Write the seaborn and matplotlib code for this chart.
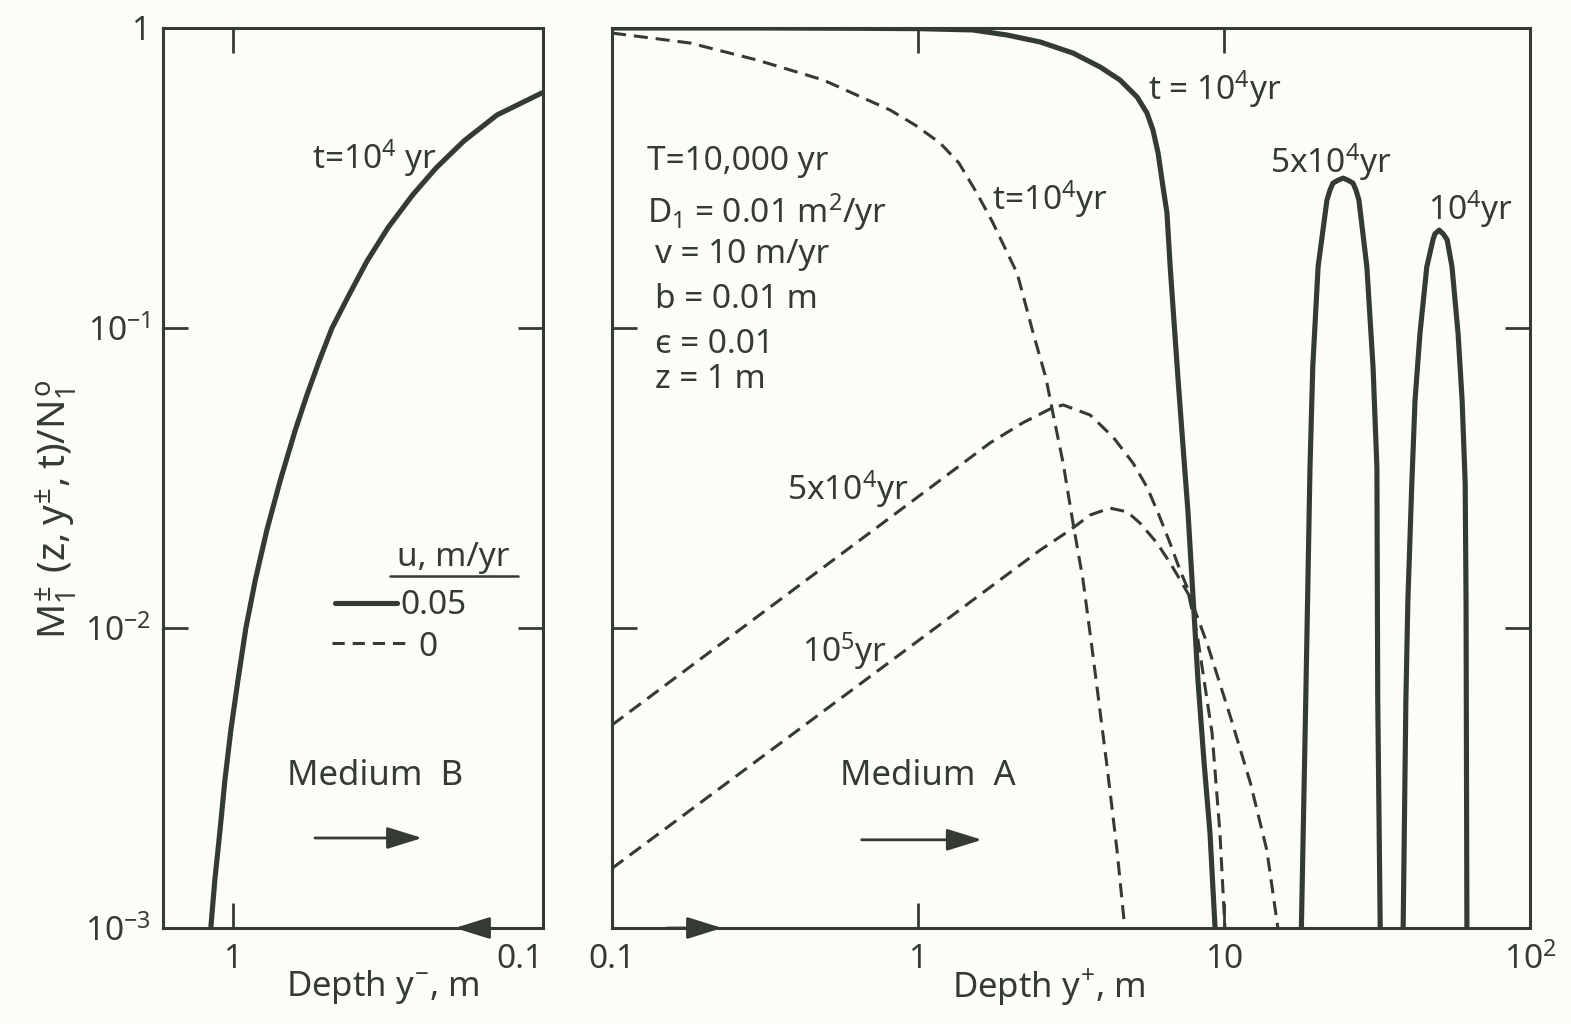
import matplotlib
matplotlib.use("Agg")
import matplotlib.pyplot as plt
from matplotlib.ticker import NullLocator
import pandas as pd
import seaborn as sns

INK = "#343a34"
PAPER = "#fcfcf8"

# ---- Medium B (depth y-), u = 0.05 m/yr, t = 1e4 yr ----
b_depth = [1.178, 1.143, 1.10, 1.061, 1.015, 0.963, 0.908, 0.846, 0.777, 0.703,
           0.629, 0.577, 0.527, 0.479, 0.422, 0.3695, 0.316, 0.263, 0.2215, 0.18,
           0.1407, 0.10]
b_conc = [0.001, 0.00145, 0.00212, 0.00311, 0.00457, 0.0067, 0.01, 0.0145, 0.0212,
          0.0311, 0.0457, 0.0598, 0.0776, 0.10, 0.129, 0.167, 0.216, 0.278, 0.341,
          0.42, 0.513, 0.61]

# ---- Medium A (depth y+), u = 0.05 m/yr ----
a_u05_t1e4_depth = [0.1, 0.3, 0.6, 1.0, 1.51, 1.95, 2.51, 3.21, 3.94, 4.57, 5.2, 5.6,
                    5.86, 6.09, 6.32, 6.51, 6.67, 7.08, 7.35, 7.63, 7.86, 8.04, 8.22,
                    8.6, 9.0, 9.35]
a_u05_t1e4_conc = [1.0, 1.0, 0.998, 0.995, 0.985, 0.948, 0.898, 0.825, 0.741, 0.671,
                   0.589, 0.521, 0.457, 0.383, 0.295, 0.242, 0.16, 0.067, 0.0401,
                   0.0242, 0.0145, 0.00985, 0.0067, 0.0036, 0.00207, 0.001]

a_u05_t5e4_depth = [17.9, 18.5, 19.1, 19.5, 20.3, 21.7, 22.2, 22.7, 23.6, 24.5, 25.4,
                    26.4, 27.0, 27.6, 29.3, 30.7, 31.6, 31.8, 32.4]
a_u05_t5e4_conc = [0.001, 0.00575, 0.0343, 0.074, 0.16, 0.267, 0.288, 0.304, 0.311,
                   0.316, 0.311, 0.304, 0.288, 0.267, 0.16, 0.074, 0.0343, 0.00575,
                   0.001]

a_u05_t1e5_depth = [38.5, 39.3, 39.9, 41.1, 42.1, 43.7, 46.0, 48.2, 48.9, 50.5, 52.0,
                    53.6, 55.6, 58.2, 60.0, 61.4, 61.8, 62.2]
a_u05_t1e5_conc = [0.001, 0.00575, 0.0124, 0.0304, 0.0575, 0.096, 0.16, 0.197, 0.206,
                   0.212, 0.206, 0.197, 0.16, 0.096, 0.0575, 0.0304, 0.0124, 0.001]

# ---- Medium A (depth y+), u = 0 ----
a_u0_t1e4_depth = [0.1, 0.18, 0.298, 0.49, 0.81, 0.978, 1.18, 1.36, 1.55, 1.75, 2.11,
                   2.38, 2.62, 2.76, 2.98, 3.21, 3.46, 3.7, 4.15, 4.47, 4.74]
a_u0_t1e4_conc = [0.962, 0.891, 0.782, 0.671, 0.533, 0.475, 0.414, 0.355, 0.284,
                  0.226, 0.152, 0.096, 0.068, 0.052, 0.0355, 0.0224, 0.0145, 0.00865,
                  0.00344, 0.00182, 0.001]

a_u0_t5e4_depth = [0.1, 1.04, 1.72, 2.2, 2.74, 2.98, 3.65, 4.34, 5.04, 5.6, 6.09, 6.66,
                   7.18, 7.57, 8.16, 9.14, 9.7, 10.07]
a_u0_t5e4_conc = [0.00475, 0.0282, 0.0414, 0.0483, 0.0541, 0.0554, 0.0513, 0.0433,
                  0.0355, 0.0295, 0.0242, 0.0192, 0.0156, 0.0137, 0.0096, 0.00447,
                  0.00207, 0.001]

a_u0_t1e5_depth = [0.1, 2.51, 3.14, 3.65, 4.24, 4.82, 5.31, 6.04, 6.66, 7.18, 7.74,
                   8.8, 10.5, 12.2, 13.8, 15.0]
a_u0_t1e5_conc = [0.00158, 0.0182, 0.0212, 0.0238, 0.0251, 0.0244, 0.0224, 0.0192,
                  0.0165, 0.0145, 0.0127, 0.0089, 0.00505, 0.00304, 0.00182, 0.001]

y_ticks = [1e-3, 1e-2, 1e-1, 1.0]
y_ticklabels = ["$10^{-3}$", "$10^{-2}$", "$10^{-1}$", "1"]
b_xticks = [1.0, 0.1]
b_xticklabels = ["1", "0.1"]
a_xticks = [0.1, 1.0, 10.0, 100.0]
a_xticklabels = ["0.1", "1", "10", "$10^{2}$"]

params = ["T=10,000 yr", "$D_1$ = 0.01 m$^2$/yr", "v = 10 m/yr", "b = 0.01 m",
          "\u03f5 = 0.01", "z = 1 m"]

SOLID_LW = 3.7
DASH_LW = 2.2
DASH = (0, (4.6, 2.6))

sns.set_theme(style="ticks")
plt.rcParams["font.family"] = ["Noto Sans", "DejaVu Sans"]
plt.rcParams.update({
    "mathtext.fontset": "custom",
    "mathtext.rm": "Noto Sans",
    "mathtext.it": "Noto Sans",
    "mathtext.bf": "Noto Sans:bold",
    "mathtext.sf": "Noto Sans",
    "text.color": INK,
    "axes.edgecolor": INK,
    "axes.labelcolor": INK,
    "xtick.color": INK,
    "ytick.color": INK,
    "axes.facecolor": PAPER,
    "figure.facecolor": PAPER,
})

W, H = 1571, 1024
fig = plt.figure(figsize=(W / 100, H / 100), dpi=100)
axB = fig.add_axes([163 / W, 96 / H, 380 / W, 900 / H])
axA = fig.add_axes([612 / W, 96 / H, 918 / W, 900 / H])

for ax in (axB, axA):
    ax.set_xscale("log")
    ax.set_yscale("log")


def curve(ax, x, y, dashed=False):
    df = pd.DataFrame({"depth": x, "conc": y})
    sns.lineplot(data=df, x="depth", y="conc", ax=ax, sort=False, estimator=None,
                 color=INK, lw=DASH_LW if dashed else SOLID_LW,
                 linestyle=DASH if dashed else "-", zorder=3,
                 solid_joinstyle="round", dash_joinstyle="round")


curve(axB, b_depth, b_conc)
curve(axA, a_u05_t1e4_depth, a_u05_t1e4_conc)
curve(axA, a_u05_t5e4_depth, a_u05_t5e4_conc)
curve(axA, a_u05_t1e5_depth, a_u05_t1e5_conc)
curve(axA, a_u0_t1e4_depth, a_u0_t1e4_conc, dashed=True)
curve(axA, a_u0_t5e4_depth, a_u0_t5e4_conc, dashed=True)
curve(axA, a_u0_t1e5_depth, a_u0_t1e5_conc, dashed=True)

axB.set_xlim(1.68, 0.1)
axA.set_xlim(0.1, 100)
for ax in (axB, axA):
    ax.set_ylim(1e-3, 1.0)
    ax.set_yticks(y_ticks)
    ax.xaxis.set_minor_locator(NullLocator())
    ax.yaxis.set_minor_locator(NullLocator())
    for s in ax.spines.values():
        s.set_visible(True)
        s.set_linewidth(2.2)
        s.set_color(INK)
    ax.tick_params(which="major", direction="in", length=18, width=2,
                   top=True, right=True, labelsize=24, colors=INK)
    ax.tick_params(axis="x", pad=11)
    ax.tick_params(axis="y", pad=9)

axB.set_yticklabels(y_ticklabels)
axA.tick_params(axis="y", labelleft=False)
axB.set_xticks(b_xticks)
axB.set_xticklabels(b_xticklabels)
axA.set_xticks(a_xticks)
axA.set_xticklabels(a_xticklabels)
axB.get_xticklabels()[1].set_horizontalalignment("right")

axB.set_xlabel("Depth $y^{-}$, m", fontsize=25)
axB.xaxis.set_label_coords(0.579, -0.044)
axA.set_xlabel("Depth $y^{+}$, m", fontsize=25)
axA.xaxis.set_label_coords(0.476, -0.044)
axB.set_ylabel(r"$M_1^{\pm}\ (z, y^{\pm}, t)/N_1^{o}$", fontsize=28)
axB.yaxis.set_label_coords(-0.222, 0.465)
axA.set_ylabel("")

TXT = 24

# Medium B annotations
axB.text(0.392, 0.844, "t=$10^4$ yr", transform=axB.transAxes, fontsize=TXT,
         ha="left", va="baseline")
axB.text(0.326, 0.159, "Medium  B", transform=axB.transAxes, fontsize=25,
         ha="left", va="baseline")

# legend for the flow velocity u
axB.text(0.615, 0.402, "u, m/yr", transform=axB.transAxes, fontsize=TXT,
         ha="left", va="baseline")
axB.plot([0.597, 0.934], [0.391, 0.391], transform=axB.transAxes, color=INK, lw=1.8)
axB.plot([0.453, 0.616], [0.361, 0.361], transform=axB.transAxes, color=INK,
         lw=SOLID_LW)
axB.text(0.624, 0.349, "0.05", transform=axB.transAxes, fontsize=TXT,
         ha="left", va="baseline")
axB.plot([0.445, 0.637], [0.317, 0.317], transform=axB.transAxes, color=INK,
         lw=DASH_LW, linestyle=(0, (4.0, 2.6)))
axB.text(0.672, 0.302, "0", transform=axB.transAxes, fontsize=TXT,
         ha="left", va="baseline")

# Medium A annotations
for i, (s, yy) in enumerate(zip(params, [0.842, 0.784, 0.739, 0.689, 0.639, 0.600])):
    axA.text(0.038 if i < 2 else 0.0468, yy, s, transform=axA.transAxes,
             fontsize=TXT, ha="left", va="baseline")

labels_a = [
    (0.414, 0.798, "t=$10^4$yr", TXT),
    (0.584, 0.920, "t = $10^4$yr", TXT),
    (0.717, 0.839, "5x$10^4$yr", TXT),
    (0.889, 0.787, "$10^4$yr", TXT),
    (0.191, 0.476, "5x$10^4$yr", TXT),
    (0.207, 0.296, "$10^5$yr", TXT),
    (0.248, 0.159, "Medium  A", 25),
]
for x, y, s, fs in labels_a:
    axA.text(x, y, s, transform=axA.transAxes, fontsize=fs, ha="left", va="baseline")

# flow direction arrows
arrow = dict(arrowstyle="-|>,head_length=0.9,head_width=0.28", color=INK, lw=2,
             mutation_scale=24, shrinkA=0, shrinkB=0)
axB.annotate("", xy=(0.682, 0.10), xytext=(0.40, 0.10), xycoords="axes fraction",
             arrowprops=arrow)
axA.annotate("", xy=(0.403, 0.098), xytext=(0.272, 0.098), xycoords="axes fraction",
             arrowprops=arrow)
axB.annotate("", xy=(0.768, 0.0), xytext=(0.86, 0.0), xycoords="axes fraction",
             arrowprops=arrow, annotation_clip=False)
axA.annotate("", xy=(0.12, 0.0), xytext=(0.06, 0.0), xycoords="axes fraction",
             arrowprops=arrow, annotation_clip=False)

fig.savefig("out.png", dpi=100, facecolor=PAPER)
